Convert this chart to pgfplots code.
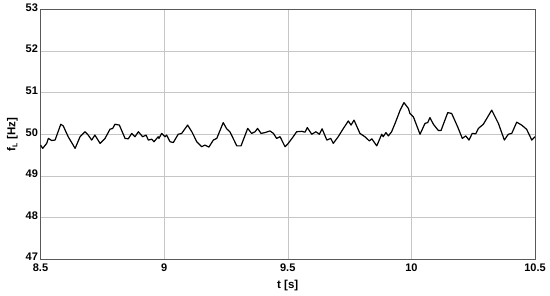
\documentclass[border=0pt]{standalone}
\usepackage{pgfplots}
\pgfplotsset{compat=1.18}
\usepackage{fontspec}
\setmainfont{Liberation Sans}

\pgfplotstableread{
t      f
8.500  49.74
8.509  49.66
8.525  49.78
8.532  49.90
8.545  49.85
8.559  49.86
8.582  50.24
8.592  50.20
8.612  49.94
8.640  49.66
8.660  49.94
8.680  50.06
8.693  49.98
8.707  49.86
8.720  49.98
8.741  49.78
8.761  49.90
8.781  50.12
8.792  50.14
8.801  50.24
8.819  50.22
8.842  49.90
8.855  49.89
8.869  50.02
8.882  49.94
8.896  50.06
8.913  49.94
8.927  49.98
8.936  49.86
8.950  49.88
8.959  49.82
8.976  49.94
8.979  49.90
8.990  50.02
9.004  49.94
9.010  49.98
9.024  49.82
9.037  49.80
9.057  50.00
9.071  50.02
9.095  50.22
9.112  50.06
9.132  49.82
9.152  49.70
9.165  49.74
9.181  49.69
9.199  49.86
9.213  49.90
9.239  50.28
9.253  50.13
9.266  50.06
9.294  49.72
9.311  49.72
9.338  50.14
9.354  50.02
9.368  50.06
9.378  50.14
9.392  50.02
9.408  50.04
9.428  50.08
9.442  50.02
9.455  49.90
9.469  49.94
9.489  49.70
9.502  49.78
9.522  49.94
9.536  50.06
9.556  50.07
9.570  50.05
9.579  50.16
9.597  50.00
9.614  50.06
9.628  50.00
9.639  50.13
9.658  49.86
9.674  49.90
9.684  49.78
9.704  49.94
9.725  50.14
9.745  50.32
9.756  50.22
9.768  50.34
9.792  50.02
9.812  49.94
9.830  49.84
9.840  49.89
9.860  49.72
9.880  50.00
9.886  49.94
9.897  50.04
9.907  49.96
9.920  50.06
9.934  50.26
9.954  50.57
9.970  50.76
9.988  50.62
9.994  50.50
10.008 50.42
10.035 50.00
10.055 50.26
10.066 50.28
10.075 50.40
10.089 50.24
10.109 50.09
10.120 50.09
10.147 50.52
10.163 50.50
10.187 50.18
10.206 49.90
10.220 49.96
10.233 49.86
10.246 50.02
10.260 50.01
10.271 50.14
10.291 50.24
10.325 50.58
10.352 50.26
10.376 49.86
10.392 50.00
10.406 50.02
10.426 50.29
10.446 50.22
10.466 50.12
10.487 49.86
10.500 49.94
}\freq

\begin{document}
\begin{tikzpicture}
\begin{axis}[
    scale only axis,
    width=494.5pt,
    height=249.5pt,
    xmin=8.5, xmax=10.5,
    ymin=47, ymax=53,
    xtick={8.5,9,9.5,10,10.5},
    ytick={47,48,49,50,51,52,53},
    xticklabels={\textbf{8.5},\textbf{9},\textbf{9.5},\textbf{10},\textbf{10.5}},
    yticklabels={\textbf{47},\textbf{48},\textbf{49},\textbf{50},\textbf{51},\textbf{52},\textbf{53}},
    grid=major,
    major grid style={line width=0.5pt, draw=gray!45},
    axis line style={draw=gray!70!black, line width=0.8pt},
    major tick length=0pt,
    /pgf/number format/assume math mode=true,
    tick label style={font=\fontsize{11}{13}\selectfont\bfseries},
    xticklabel style={yshift=-1pt},
    yticklabel style={xshift=1pt, yshift=2pt},
    xlabel={\textbf{t [s]}},
    ylabel={\textbf{f\textsubscript{\scriptsize L} [Hz]}},
    label style={font=\fontsize{11.5}{13}\selectfont},
    xlabel style={yshift=-1.5pt},
    ylabel style={yshift=1pt},
]
\addplot[black, line width=1.2pt, line join=round] table[x=t, y=f] {\freq};
\path (rel axis cs:0,0) ++(-40.5pt,-37pt) coordinate (bbll);
\path (rel axis cs:1,1) ++(15pt,9.5pt) coordinate (bbur);
\end{axis}
\path (bbll) (bbur);
\end{tikzpicture}
\end{document}
